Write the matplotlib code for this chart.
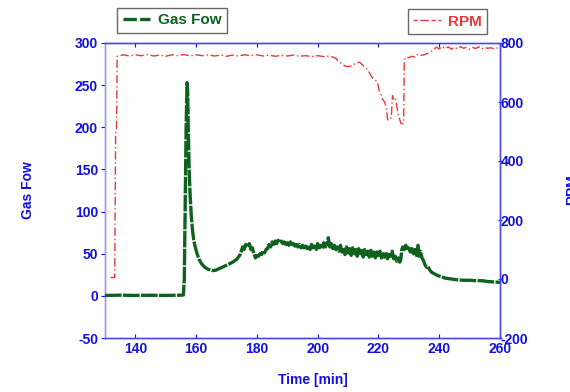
import matplotlib
matplotlib.use("Agg")
import matplotlib.pyplot as plt
from matplotlib.lines import Line2D

# Gas flow (left axis)
gas_time = [130, 135, 140, 145, 150, 155, 155.8, 156.1, 156.4, 156.7, 157.0, 157.2, 157.4, 157.7,
            158.0, 158.4, 158.8, 159.2, 159.7, 160.3, 161.0, 161.8, 162.8, 164.0, 165.5, 166.5,
            168.0, 169.5, 171.0, 172.5, 173.5, 174.5, 175.3, 175.8, 176.3, 176.8, 177.5, 178.0,
            178.5, 179.0, 179.5, 180.0, 180.5, 181.0, 181.5, 182.0, 182.5, 183.0, 183.5, 184.0,
            184.5, 185.0, 185.5, 186.0, 186.5, 187.0, 187.5, 188.0, 188.5, 189.0, 189.5, 190.0,
            190.5, 191.0, 191.5, 192.0, 192.5, 193.0, 193.5, 194.0, 194.5, 195.0, 195.5, 196.0,
            196.5, 197.0, 197.5, 198.0, 198.5, 199.0, 199.5, 200.0, 200.5, 201.0, 201.5, 202.0,
            202.5, 203.0, 203.5, 204.0, 204.5, 205.0, 205.5, 206.0, 206.5, 207.0, 207.5, 208.0,
            208.5, 209.0, 209.5, 210.0, 210.5, 211.0, 211.5, 212.0, 212.5, 213.0, 213.5, 214.0,
            214.5, 215.0, 215.5, 216.0, 216.5, 217.0, 217.5, 218.0, 218.5, 219.0, 219.5, 220.0,
            220.5, 221.0, 221.5, 222.0, 222.5, 223.0, 223.5, 224.0, 224.5, 225.0, 225.5, 226.0,
            226.5, 227.0, 227.3, 227.7, 228.0, 228.5, 229.0, 229.5, 230.0, 230.5, 231.0, 231.5,
            232.0, 232.5, 233.0, 233.3, 233.8, 234.3, 234.8, 235.3, 235.8, 236.3, 236.8, 237.5,
            238.5, 239.5, 240.5, 242.0, 244.0, 246.0, 248.0, 250.0, 252.0, 254.0, 256.0, 258.0,
            260.0]
gas_flow = [0.5, 0.8, 0.5, 0.7, 0.5, 0.8, 1, 20, 110, 200, 253, 245, 200, 150,
            120, 95, 78, 66, 58, 50, 43, 38, 34, 31.5, 30, 30.5,
            33, 35.5, 38, 41, 44, 49, 58, 55, 61, 58, 62, 55,
            57, 50, 45, 48, 47, 50, 49, 53, 51, 55, 56, 61,
            58, 64, 61, 65, 62, 66, 63, 65, 62, 64, 61, 63,
            60, 64, 61, 62, 59, 61, 58, 61, 57, 60, 57, 59,
            56, 60, 55, 61, 57, 59, 55, 62, 57, 60, 56, 63,
            58, 61, 69, 58, 62, 56, 60, 55, 58, 53, 60, 52,
            57, 49, 58, 51, 56, 48, 57, 50, 55, 47, 56, 50,
            54, 46, 55, 49, 53, 46, 54, 47, 52, 45, 52, 48,
            53, 45, 50, 46, 52, 44, 49, 47, 53, 44, 47, 41,
            45, 40, 42, 55, 58, 55, 60, 54, 57, 52, 56, 50,
            55, 48, 60, 47, 53, 45, 42, 37, 34, 35, 31, 28,
            26, 24, 23, 21, 20, 19, 18.5, 18.5, 18, 18, 17, 16.5,
            16]

# RPM (right axis)
rpm_time = [131.8, 133.2, 133.3, 133.5, 133.8, 134.0, 136, 138, 140, 142, 144, 146, 148, 150,
            152, 154, 156, 158, 160, 162, 164, 166, 168, 170, 172, 174, 176, 178, 180, 182,
            184, 186, 188, 190, 192, 194, 196, 198, 200, 202, 204, 205, 206, 207, 208, 209,
            210, 211, 212, 213, 213.8, 214.5, 215.5, 216, 217, 217.6, 218.5, 219.2, 219.8,
            220.3, 221, 221.4, 222, 222.5, 222.8, 223.0, 223.5, 224.0, 224.3, 224.6, 225.0,
            225.5, 225.8, 226.2, 226.6, 227.0, 227.4, 228.0, 228.3, 228.5, 229, 230, 231, 232,
            233, 234, 235, 236, 237, 238, 239, 240, 241, 242, 243, 244, 245, 246, 247, 248,
            249, 250, 251, 252, 253, 254, 255, 256, 257, 258, 259, 260]
rpm = [5, 5, 180, 500, 510, 755, 760, 756, 760, 757, 761, 756, 759, 755,
       760, 757, 761, 756, 760, 757, 760, 756, 759, 755, 759, 756, 760, 757, 760, 756,
       759, 755, 758, 756, 759, 755, 757, 754, 757, 754, 756, 752, 748, 735, 730, 722,
       720, 722, 728, 733, 735, 728, 718, 714, 700, 688, 676, 672, 660,
       636, 622, 610, 600, 585, 560, 540, 538, 542, 560, 622, 610,
       615, 600, 575, 550, 540, 528, 526, 530, 740, 752, 750, 755, 752,
       762, 758, 760, 764, 770, 775, 786, 780, 788, 781, 787, 779, 786, 780, 788, 782,
       786, 779, 785, 781, 787, 780, 785, 782, 784, 780, 783, 781]

blue = "#1010e0"
green = "#0e621e"
red = "#e8383c"
plt.rcParams['font.family'] = ['Liberation Sans', 'DejaVu Sans']
plt.rcParams['axes.unicode_minus'] = False

fig = plt.figure(figsize=(5.7, 3.92), dpi=100)
ax = fig.add_axes([105 / 570, 1 - 338 / 392, 395 / 570, 295 / 392])
ax2 = ax.twinx()

ax.plot(gas_time, gas_flow, color=green, lw=2.4, linestyle=(0, (5, 0.4)), zorder=3)
ax2.plot(rpm_time, rpm, color=red, lw=1.0, linestyle=(0, (6, 2, 1, 2)))
ax.set_zorder(ax2.get_zorder() + 1)
ax.patch.set_visible(False)

ax.set_xlim(130, 260)
ax.set_ylim(-50, 300)
ax2.set_ylim(-200, 800)
ax.set_xticks([140, 160, 180, 200, 220, 240, 260])
ax.set_yticks([-50, 0, 50, 100, 150, 200, 250, 300])
ax2.set_yticks([-200, 0, 200, 400, 600, 800])

for a in (ax, ax2):
    for s in a.spines.values():
        s.set_color("#4848ee")
        s.set_linewidth(1.0)
ax.spines['left'].set_color("#9a9af0")
ax2.spines['left'].set_color("#9a9af0")

ax.tick_params(axis='x', direction='in', length=3, top=True, colors=blue, labelsize=10, pad=3)
ax.tick_params(axis='y', direction='out', length=3, colors=blue, labelsize=10, pad=2)
ax2.tick_params(axis='y', direction='inout', length=3, colors=blue, labelsize=10, pad=-1)
for lab in ax.get_xticklabels() + ax.get_yticklabels() + ax2.get_yticklabels():
    lab.set_fontweight('bold')
    lab.set_color(blue)

fig.text(28 / 570, 1 - 190 / 392, "Gas Fow", rotation=90, ha='center', va='center',
         color=blue, fontsize=10, fontweight='bold')
fig.text(313 / 570, 1 - 380 / 392, "Time [min]", ha='center', va='center',
         color=blue, fontsize=10, fontweight='bold')
fig.text(565 / 570, 1 - 190 / 392, "RPM", rotation=90, ha='left', va='center',
         color=blue, fontsize=10, fontweight='bold')

h1 = Line2D([], [], color=green, lw=2.4, linestyle=(0, (4, 1)))
h2 = Line2D([], [], color=red, lw=1.0, linestyle=(0, (3, 2, 6, 2)))
leg1 = fig.legend([h1], ["Gas Fow"], loc='center', bbox_to_anchor=(172 / 570, 1 - 20.5 / 392),
                  fancybox=False, edgecolor='#444444', handlelength=1.8, handletextpad=0.5,
                  borderpad=0.35, prop={'weight': 'bold', 'size': 11})
leg1.get_texts()[0].set_color(green)
leg2 = fig.legend([h2], ["RPM"], loc='center', bbox_to_anchor=(447.5 / 570, 1 - 21.5 / 392),
                  fancybox=False, edgecolor='#444444', handlelength=1.8, handletextpad=0.5,
                  borderpad=0.35, prop={'weight': 'bold', 'size': 11})
leg2.get_texts()[0].set_color(red)
for lg in (leg1, leg2):
    lg.get_frame().set_linewidth(1.0)

fig.savefig("out.png", dpi=100)
